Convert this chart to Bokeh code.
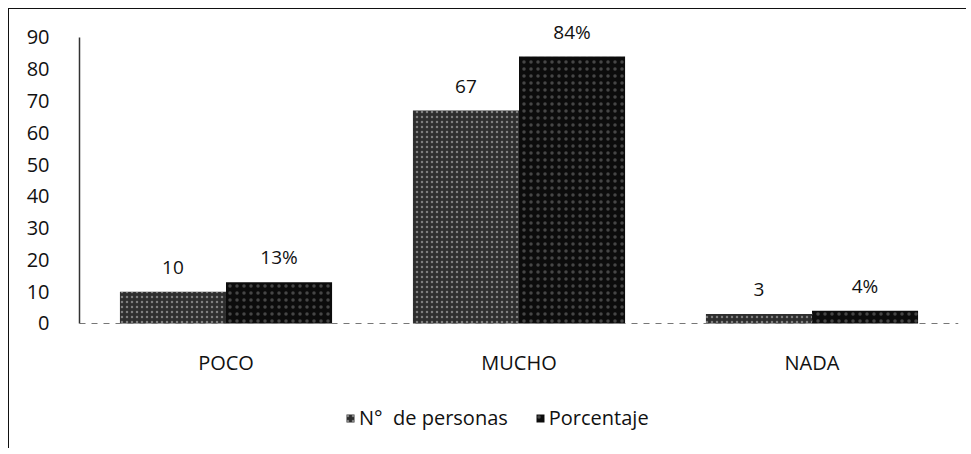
from bokeh.plotting import figure
from bokeh.models import ColumnDataSource, Legend, LegendItem, FactorRange, Range1d, LabelSet
from bokeh.transform import dodge
from bokeh.embed import file_html
from bokeh.resources import INLINE
from bokeh.core.properties import value

categories = ["POCO", "MUCHO", "NADA"]
personas = [10, 67, 3]
porcentaje = [13, 84, 4]
personas_labels = ["10", "67", "3"]
porcentaje_labels = ["13%", "84%", "4%"]
series_names = ["N°  de personas", "Porcentaje"]
y_ticks = [0, 10, 20, 30, 40, 50, 60, 70, 80, 90]

src = ColumnDataSource(dict(cat=categories, personas=personas, porcentaje=porcentaje,
                            pl=personas_labels, ql=porcentaje_labels))

FONT = "Open Sans"

p = figure(x_range=FactorRange(*categories, range_padding=0), y_range=Range1d(-39.65, 96.92),
           width=958, height=440, output_backend="svg", toolbar_location=None,
           min_border_left=70, min_border_right=9, min_border_top=6, min_border_bottom=0,
           styles={"border-left": "1px solid #111", "border-top": "1px solid #111",
                   "margin-left": "8px", "margin-top": "8px"})
p.outline_line_color = None
p.xgrid.grid_line_color = None
p.ygrid.grid_line_color = None

bw = 0.362
r1 = p.vbar(x=dodge("cat", -bw / 2, range=p.x_range), top="personas", width=bw, source=src,
            fill_color="#2e2e2e", line_color=None,
            hatch_pattern="dot", hatch_color="#e0e0e0", hatch_scale=5, hatch_alpha=0.45)
r2 = p.vbar(x=dodge("cat", bw / 2, range=p.x_range), top="porcentaje", width=bw, source=src,
            fill_color="#0c0c0c", line_color=None,
            hatch_pattern="dot", hatch_color="#cccccc", hatch_scale=7, hatch_alpha=0.3)

for xo, col, lab in [(-bw / 2, "personas", "pl"), (bw / 2, "porcentaje", "ql")]:
    ls = LabelSet(x=dodge("cat", xo, range=p.x_range), y=col, text=lab, source=src,
                  text_align="center", text_baseline="alphabetic", y_offset=18,
                  text_font=value(FONT), text_font_size="19px", text_color="#111111")
    p.add_layout(ls)

p.yaxis.bounds = (0, 90)
p.yaxis.ticker = y_ticks
p.yaxis.major_tick_line_color = None
p.yaxis.minor_tick_line_color = None
p.yaxis.axis_line_color = "#333333"
p.yaxis.axis_line_width = 1.5
p.yaxis.major_label_standoff = 24
p.yaxis.major_label_text_font = FONT
p.yaxis.major_label_text_font_size = "20px"
p.yaxis.major_label_text_color = "#111111"

p.xaxis.fixed_location = 0
p.xaxis.major_tick_line_color = None
p.xaxis.minor_tick_line_color = None
p.xaxis.axis_line_color = "#777777"
p.xaxis.axis_line_dash = "6 6"
p.xaxis.major_label_standoff = 20
p.xaxis.major_label_text_font = FONT
p.xaxis.major_label_text_font_size = "20px"
p.xaxis.major_label_text_color = "#111111"

legend = Legend(items=[LegendItem(label=series_names[0], renderers=[r1]),
                       LegendItem(label=series_names[1], renderers=[r2])],
                orientation="horizontal", location=(266, 18),
                label_text_font=FONT, label_text_font_size="20px", label_text_color="#111111",
                glyph_width=10, glyph_height=10, spacing=27, label_standoff=4,
                margin=0, padding=2, border_line_color=None, background_fill_alpha=0)
p.add_layout(legend, "center")

open("out.html", "w").write(file_html(p, INLINE))
